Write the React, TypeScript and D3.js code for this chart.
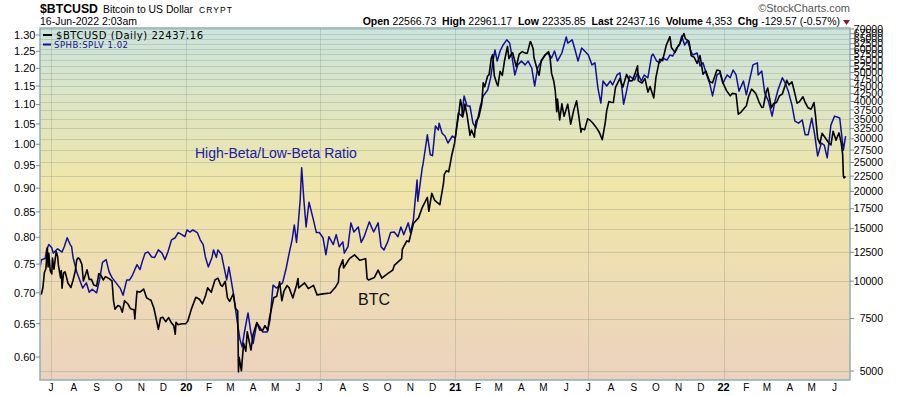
import React from 'react';
import * as d3 from 'd3';

// chart frame
const W = 900;
const H = 396;
const plotLeft = 40;
const plotRight = 850;
const plotTop = 28;
const plotBottom = 380;

// $BTCUSD daily close (USD)
const btcSeries: [string, number][] = [
  ['2019-06-16', 8990], ['2019-06-18', 9080], ['2019-06-20', 9530], ['2019-06-22', 10700], ['2019-06-24', 11010],
  ['2019-06-26', 12930], ['2019-06-27', 11160], ['2019-06-28', 12410], ['2019-06-30', 10820], ['2019-07-02', 10580],
  ['2019-07-03', 11960], ['2019-07-05', 10980], ['2019-07-08', 12570], ['2019-07-10', 12100], ['2019-07-11', 11350],
  ['2019-07-14', 10260], ['2019-07-15', 10850], ['2019-07-16', 9470], ['2019-07-18', 10640], ['2019-07-20', 10760],
  ['2019-07-22', 10330], ['2019-07-24', 9860], ['2019-07-28', 9530], ['2019-07-31', 10080], ['2019-08-03', 10820],
  ['2019-08-05', 11800], ['2019-08-07', 11980], ['2019-08-09', 11860], ['2019-08-12', 11380], ['2019-08-14', 10020],
  ['2019-08-16', 10360], ['2019-08-19', 10920], ['2019-08-22', 10130], ['2019-08-25', 10150], ['2019-08-28', 9720],
  ['2019-09-01', 9630], ['2019-09-04', 10600], ['2019-09-07', 10460], ['2019-09-10', 10100], ['2019-09-13', 10360],
  ['2019-09-18', 10200], ['2019-09-22', 10020], ['2019-09-24', 8600], ['2019-09-26', 8060], ['2019-09-30', 8290],
  ['2019-10-03', 8230], ['2019-10-06', 7880], ['2019-10-09', 8600], ['2019-10-14', 8370], ['2019-10-17', 8090],
  ['2019-10-22', 8020], ['2019-10-23', 7470], ['2019-10-25', 8660], ['2019-10-26', 9260], ['2019-10-30', 9190],
  ['2019-11-04', 9410], ['2019-11-08', 8800], ['2019-11-11', 8710], ['2019-11-14', 8630], ['2019-11-18', 8120],
  ['2019-11-22', 7290], ['2019-11-24', 6900], ['2019-11-27', 7530], ['2019-11-30', 7570], ['2019-12-04', 7320],
  ['2019-12-08', 7550], ['2019-12-12', 7240], ['2019-12-15', 7100], ['2019-12-17', 6640], ['2019-12-18', 7280],
  ['2019-12-21', 7150], ['2019-12-26', 7200], ['2019-12-31', 7200],
  ['2020-01-03', 7340], ['2020-01-06', 7770], ['2020-01-08', 8080], ['2020-01-14', 8840], ['2020-01-19', 8700],
  ['2020-01-23', 8400], ['2020-01-27', 8900], ['2020-01-30', 9500], ['2020-02-04', 9180], ['2020-02-09', 10100],
  ['2020-02-13', 10240], ['2020-02-17', 9700], ['2020-02-19', 9600], ['2020-02-23', 9990], ['2020-02-26', 8790],
  ['2020-02-29', 8560], ['2020-03-05', 9070], ['2020-03-08', 8110], ['2020-03-11', 7940], ['2020-03-12', 4970],
  ['2020-03-13', 5560], ['2020-03-16', 5010], ['2020-03-19', 6190], ['2020-03-22', 5830], ['2020-03-24', 6770],
  ['2020-03-29', 5880], ['2020-04-01', 6640], ['2020-04-06', 7270], ['2020-04-10', 6870], ['2020-04-14', 6840],
  ['2020-04-17', 7100], ['2020-04-21', 6840], ['2020-04-23', 7480], ['2020-04-29', 8800], ['2020-05-03', 8900],
  ['2020-05-07', 9950], ['2020-05-10', 8600], ['2020-05-13', 9270], ['2020-05-17', 9670], ['2020-05-20', 9500],
  ['2020-05-25', 8790], ['2020-05-30', 9700], ['2020-06-01', 10200], ['2020-06-02', 9500], ['2020-06-10', 9870],
  ['2020-06-15', 9450], ['2020-06-22', 9690], ['2020-06-27', 9000], ['2020-07-05', 9070], ['2020-07-15', 9130],
  ['2020-07-22', 9550], ['2020-07-26', 9930], ['2020-07-27', 11000], ['2020-08-01', 11800], ['2020-08-02', 11070],
  ['2020-08-10', 11900], ['2020-08-17', 12250], ['2020-08-24', 11750], ['2020-09-01', 11900], ['2020-09-03', 10200],
  ['2020-09-05', 10100], ['2020-09-13', 10300], ['2020-09-18', 10900], ['2020-09-23', 10240], ['2020-10-01', 10600],
  ['2020-10-08', 10900], ['2020-10-10', 11300], ['2020-10-20', 11900], ['2020-10-21', 12800], ['2020-10-27', 13650],
  ['2020-10-30', 13560], ['2020-11-05', 15600], ['2020-11-12', 16300], ['2020-11-17', 17650], ['2020-11-24', 19100],
  ['2020-11-26', 17150], ['2020-11-30', 19700], ['2020-12-04', 18650], ['2020-12-11', 18050], ['2020-12-16', 21300],
  ['2020-12-17', 22800], ['2020-12-20', 23470], ['2020-12-23', 23240], ['2020-12-27', 26270], ['2020-12-31', 29000],
  ['2021-01-03', 32800], ['2021-01-06', 36800], ['2021-01-08', 40600], ['2021-01-10', 38350], ['2021-01-11', 35500],
  ['2021-01-13', 37400], ['2021-01-14', 39200], ['2021-01-17', 36000], ['2021-01-21', 30800], ['2021-01-23', 32100],
  ['2021-01-27', 30400], ['2021-01-29', 34300], ['2021-02-02', 35500], ['2021-02-06', 39300], ['2021-02-08', 46200],
  ['2021-02-10', 44800], ['2021-02-14', 48700], ['2021-02-16', 49200], ['2021-02-19', 55900], ['2021-02-21', 57500],
  ['2021-02-23', 48900], ['2021-02-26', 46300], ['2021-02-28', 45100], ['2021-03-03', 50500], ['2021-03-06', 48900],
  ['2021-03-09', 54800], ['2021-03-13', 61200], ['2021-03-15', 55700], ['2021-03-18', 57600], ['2021-03-20', 58300],
  ['2021-03-25', 52300], ['2021-03-29', 57700], ['2021-04-02', 58800], ['2021-04-06', 58100], ['2021-04-09', 58100],
  ['2021-04-13', 63500], ['2021-04-14', 63100], ['2021-04-17', 60000], ['2021-04-18', 56200], ['2021-04-22', 51700],
  ['2021-04-25', 49000], ['2021-04-28', 54900], ['2021-05-03', 57200], ['2021-05-08', 58800], ['2021-05-10', 55900],
  ['2021-05-12', 49700], ['2021-05-15', 46800], ['2021-05-17', 43500], ['2021-05-19', 37000], ['2021-05-20', 40800],
  ['2021-05-23', 34700], ['2021-05-26', 39300], ['2021-05-29', 35700], ['2021-06-03', 39200], ['2021-06-07', 33600],
  ['2021-06-11', 37300], ['2021-06-15', 40200], ['2021-06-18', 35800], ['2021-06-21', 31600], ['2021-06-22', 32500],
  ['2021-06-26', 32200], ['2021-06-30', 35000], ['2021-07-03', 34700], ['2021-07-07', 33900], ['2021-07-12', 32700],
  ['2021-07-16', 31500], ['2021-07-20', 29800], ['2021-07-24', 34000], ['2021-07-26', 37300], ['2021-07-29', 40000],
  ['2021-08-01', 39800], ['2021-08-04', 39700], ['2021-08-07', 44600], ['2021-08-13', 47800], ['2021-08-17', 44700],
  ['2021-08-22', 49300], ['2021-08-26', 46900], ['2021-08-30', 47000], ['2021-09-03', 50000], ['2021-09-06', 52700],
  ['2021-09-07', 46900], ['2021-09-12', 46100], ['2021-09-16', 47800], ['2021-09-20', 43000], ['2021-09-23', 44900],
  ['2021-09-28', 41100], ['2021-10-01', 48200], ['2021-10-06', 55400], ['2021-10-10', 54800], ['2021-10-15', 61700],
  ['2021-10-20', 66000], ['2021-10-22', 60700], ['2021-10-27', 58400], ['2021-10-31', 61300], ['2021-11-03', 62900],
  ['2021-11-08', 67600], ['2021-11-10', 65000], ['2021-11-15', 63600], ['2021-11-18', 56900], ['2021-11-22', 56300],
  ['2021-11-26', 53700], ['2021-11-30', 57000], ['2021-12-04', 49400], ['2021-12-08', 50600], ['2021-12-13', 46700],
  ['2021-12-17', 46200], ['2021-12-23', 51000], ['2021-12-27', 50700], ['2021-12-31', 46300],
  ['2022-01-05', 43500], ['2022-01-10', 41800], ['2022-01-13', 42600], ['2022-01-18', 42400], ['2022-01-21', 36300],
  ['2022-01-24', 36700], ['2022-01-28', 37700], ['2022-02-01', 38700], ['2022-02-04', 41600], ['2022-02-08', 44000],
  ['2022-02-10', 43600], ['2022-02-14', 42500], ['2022-02-18', 40000], ['2022-02-22', 38200], ['2022-02-24', 38300],
  ['2022-02-28', 43200], ['2022-03-02', 44400], ['2022-03-07', 38100], ['2022-03-10', 39400], ['2022-03-14', 39700],
  ['2022-03-18', 41800], ['2022-03-22', 42400], ['2022-03-28', 47100], ['2022-03-31', 45500], ['2022-04-04', 46600],
  ['2022-04-07', 43500], ['2022-04-11', 39500], ['2022-04-14', 39900], ['2022-04-19', 41500], ['2022-04-22', 39700],
  ['2022-04-26', 38100], ['2022-04-30', 37700], ['2022-05-04', 39700], ['2022-05-06', 36000], ['2022-05-09', 30100],
  ['2022-05-12', 28900], ['2022-05-15', 31300], ['2022-05-19', 30300], ['2022-05-24', 29100], ['2022-05-27', 28600],
  ['2022-05-30', 31800], ['2022-06-03', 29700], ['2022-06-07', 31400], ['2022-06-10', 29100], ['2022-06-12', 26600],
  ['2022-06-13', 22500], ['2022-06-14', 22200], ['2022-06-16', 22437.16],
];

// SPHB:SPLV ratio
const ratioSeries: [string, number][] = [
  ['2019-06-16', 0.745], ['2019-06-18', 0.758], ['2019-06-23', 0.760], ['2019-06-25', 0.776], ['2019-06-28', 0.786],
  ['2019-07-02', 0.780], ['2019-07-04', 0.770], ['2019-07-10', 0.778], ['2019-07-16', 0.772], ['2019-07-19', 0.782],
  ['2019-07-23', 0.799], ['2019-07-27', 0.786], ['2019-07-29', 0.782], ['2019-07-31', 0.762], ['2019-08-05', 0.736],
  ['2019-08-09', 0.722], ['2019-08-13', 0.708], ['2019-08-18', 0.717], ['2019-08-22', 0.701], ['2019-08-26', 0.706],
  ['2019-09-01', 0.700], ['2019-09-05', 0.722], ['2019-09-09', 0.753], ['2019-09-14', 0.758], ['2019-09-18', 0.736],
  ['2019-09-22', 0.726], ['2019-10-03', 0.708], ['2019-10-07', 0.696], ['2019-10-12', 0.722], ['2019-10-16', 0.722],
  ['2019-10-20', 0.731], ['2019-10-26', 0.749], ['2019-10-30', 0.740], ['2019-11-02', 0.754], ['2019-11-06', 0.770],
  ['2019-11-10', 0.772], ['2019-11-15', 0.763], ['2019-11-19', 0.762], ['2019-11-24', 0.776], ['2019-11-29', 0.770],
  ['2019-12-03', 0.758], ['2019-12-07', 0.772], ['2019-12-12', 0.795], ['2019-12-17', 0.799], ['2019-12-21', 0.809],
  ['2019-12-26', 0.805], ['2019-12-30', 0.801], ['2020-01-02', 0.814], ['2020-01-06', 0.810], ['2020-01-10', 0.814],
  ['2020-01-16', 0.809], ['2020-01-20', 0.795], ['2020-01-24', 0.786], ['2020-01-27', 0.763], ['2020-01-31', 0.745],
  ['2020-02-05', 0.762], ['2020-02-07', 0.776], ['2020-02-11', 0.762], ['2020-02-13', 0.776], ['2020-02-18', 0.767],
  ['2020-02-20', 0.753], ['2020-02-25', 0.722], ['2020-02-28', 0.745], ['2020-03-05', 0.700], ['2020-03-10', 0.656],
  ['2020-03-14', 0.626], ['2020-03-17', 0.615], ['2020-03-20', 0.636], ['2020-03-25', 0.667], ['2020-03-29', 0.636],
  ['2020-04-01', 0.620], ['2020-04-06', 0.651], ['2020-04-10', 0.645], ['2020-04-14', 0.637], ['2020-04-20', 0.637],
  ['2020-04-24', 0.656], ['2020-04-28', 0.713], ['2020-05-03', 0.708], ['2020-05-07', 0.713], ['2020-05-11', 0.717],
  ['2020-05-16', 0.743], ['2020-05-20', 0.770], ['2020-05-24', 0.795], ['2020-05-27', 0.824], ['2020-05-30', 0.790],
  ['2020-06-01', 0.820], ['2020-06-04', 0.875], ['2020-06-06', 0.945], ['2020-06-09', 0.875], ['2020-06-12', 0.820],
  ['2020-06-16', 0.870], ['2020-06-22', 0.834], ['2020-06-26', 0.809], ['2020-06-30', 0.809], ['2020-07-05', 0.799],
  ['2020-07-09', 0.767], ['2020-07-13', 0.801], ['2020-07-19', 0.786], ['2020-07-23', 0.805], ['2020-07-27', 0.782],
  ['2020-08-01', 0.791], ['2020-08-03', 0.770], ['2020-08-08', 0.782], ['2020-08-12', 0.828], ['2020-08-16', 0.810],
  ['2020-08-22', 0.820], ['2020-08-26', 0.790], ['2020-08-30', 0.801], ['2020-09-06', 0.830], ['2020-09-12', 0.810],
  ['2020-09-18', 0.828], ['2020-09-22', 0.782], ['2020-09-26', 0.776], ['2020-10-01', 0.791], ['2020-10-05', 0.809],
  ['2020-10-10', 0.810], ['2020-10-15', 0.801], ['2020-10-19', 0.820], ['2020-10-23', 0.805], ['2020-10-29', 0.828],
  ['2020-11-01', 0.809], ['2020-11-05', 0.834], ['2020-11-10', 0.918], ['2020-11-11', 0.872], ['2020-11-17', 0.945],
  ['2020-11-18', 0.952], ['2020-11-24', 1.023], ['2020-11-28', 0.975], ['2020-12-01', 0.973], ['2020-12-05', 1.045],
  ['2020-12-09', 1.035], ['2020-12-10', 1.052], ['2020-12-14', 1.027], ['2020-12-18', 1.020], ['2020-12-22', 1.003],
  ['2020-12-28', 1.020], ['2021-01-01', 1.015], ['2021-01-05', 1.078], ['2021-01-10', 1.070], ['2021-01-13', 1.123],
  ['2021-01-17', 1.096], ['2021-01-21', 1.096], ['2021-01-25', 1.052], ['2021-01-29', 1.040], ['2021-02-04', 1.096],
  ['2021-02-08', 1.123], ['2021-02-14', 1.139], ['2021-02-18', 1.172], ['2021-02-22', 1.230], ['2021-02-24', 1.254],
  ['2021-02-27', 1.221], ['2021-03-03', 1.251], ['2021-03-07', 1.269], ['2021-03-12', 1.285], ['2021-03-16', 1.275],
  ['2021-03-19', 1.236], ['2021-03-23', 1.181], ['2021-03-27', 1.210], ['2021-04-01', 1.221], ['2021-04-06', 1.210],
  ['2021-04-10', 1.221], ['2021-04-15', 1.201], ['2021-04-19', 1.150], ['2021-04-23', 1.201], ['2021-04-29', 1.224],
  ['2021-05-03', 1.239], ['2021-05-07', 1.245], ['2021-05-12', 1.230], ['2021-05-16', 1.251], ['2021-05-20', 1.221],
  ['2021-05-26', 1.245], ['2021-06-01', 1.294], ['2021-06-03', 1.275], ['2021-06-09', 1.285], ['2021-06-13', 1.254],
  ['2021-06-17', 1.221], ['2021-06-22', 1.260], ['2021-06-26', 1.251], ['2021-07-01', 1.239], ['2021-07-06', 1.210],
  ['2021-07-10', 1.216], ['2021-07-14', 1.145], ['2021-07-18', 1.104], ['2021-07-21', 1.164], ['2021-07-26', 1.150],
  ['2021-07-31', 1.164], ['2021-08-03', 1.153], ['2021-08-09', 1.181], ['2021-08-13', 1.187], ['2021-08-16', 1.139],
  ['2021-08-18', 1.101], ['2021-08-22', 1.136], ['2021-08-26', 1.178], ['2021-09-02', 1.167], ['2021-09-06', 1.187],
  ['2021-09-11', 1.164], ['2021-09-15', 1.181], ['2021-09-20', 1.173], ['2021-09-25', 1.236], ['2021-09-27', 1.242],
  ['2021-10-02', 1.221], ['2021-10-06', 1.216], ['2021-10-10', 1.230], ['2021-10-16', 1.224], ['2021-10-20', 1.239],
  ['2021-10-24', 1.236], ['2021-10-29', 1.260], ['2021-11-02', 1.269], ['2021-11-05', 1.297], ['2021-11-09', 1.269],
  ['2021-11-13', 1.282], ['2021-11-17', 1.254], ['2021-11-20', 1.239], ['2021-11-26', 1.245], ['2021-11-30', 1.207],
  ['2021-12-04', 1.216], ['2021-12-09', 1.181], ['2021-12-13', 1.158], ['2021-12-17', 1.123], ['2021-12-23', 1.181],
  ['2021-12-27', 1.187], ['2021-12-31', 1.158], ['2022-01-06', 1.181], ['2022-01-10', 1.173], ['2022-01-14', 1.195],
  ['2022-01-18', 1.181], ['2022-01-22', 1.136], ['2022-01-28', 1.164], ['2022-02-01', 1.126], ['2022-02-06', 1.173],
  ['2022-02-10', 1.210], ['2022-02-16', 1.216], ['2022-02-17', 1.181], ['2022-02-22', 1.192], ['2022-02-26', 1.131],
  ['2022-03-03', 1.109], ['2022-03-08', 1.070], ['2022-03-12', 1.109], ['2022-03-16', 1.139], ['2022-03-22', 1.173],
  ['2022-03-26', 1.158], ['2022-03-30', 1.136], ['2022-04-04', 1.099], ['2022-04-08', 1.057], ['2022-04-13', 1.052],
  ['2022-04-18', 1.060], ['2022-04-22', 1.023], ['2022-04-26', 1.023], ['2022-05-01', 1.065], ['2022-05-05', 1.023],
  ['2022-05-09', 0.972], ['2022-05-14', 1.003], ['2022-05-18', 0.998], ['2022-05-22', 0.968], ['2022-05-27', 1.047],
  ['2022-06-01', 1.070], ['2022-06-08', 1.065], ['2022-06-13', 0.986], ['2022-06-16', 1.020],
];

const ratioTicks = [0.6, 0.65, 0.7, 0.75, 0.8, 0.85, 0.9, 0.95, 1.0, 1.05, 1.1, 1.15, 1.2, 1.25, 1.3];
const btcTicks = [
  5000, 7500, 10000, 12500, 15000, 17500, 20000, 22500, 25000, 27500, 30000, 32500, 35000, 37500,
  40000, 42500, 45000, 47500, 50000, 52500, 55000, 57500, 60000, 62500, 65000, 67500, 70000,
];
const monthLabels = [
  'J', 'A', 'S', 'O', 'N', 'D', '20', 'F', 'M', 'A', 'M', 'J',
  'J', 'A', 'S', 'O', 'N', 'D', '21', 'F', 'M', 'A', 'M', 'J',
  'J', 'A', 'S', 'O', 'N', 'D', '22', 'F', 'M', 'A', 'M', 'J',
];
const gridDates = ['2019-07-01', '2020-01-01', '2020-07-01', '2021-01-01', '2021-07-01', '2022-01-01'];
const quoteStats: [string, string][] = [
  ['Open', '22566.73'], ['High', '22961.17'], ['Low', '22335.85'],
  ['Last', '22437.16'], ['Volume', '4,353'], ['Chg', '-129.57 (-0.57%)'],
];

const parse = d3.timeParse('%Y-%m-%d');
const sans = '"Liberation Sans", Arial, sans-serif';
const verdana = '"DejaVu Sans", Verdana, sans-serif';
const blue = '#10109a';

export default function App() {
  const x = d3.scaleTime()
    .domain([parse('2019-06-16')!, parse('2022-06-22')!])
    .range([plotLeft, plotRight]);
  const yRatio = d3.scaleLog().domain([0.5678, 1.322]).range([plotBottom, plotTop]);
  const yBtc = d3.scaleLog().domain([4667, 70540]).range([plotBottom, plotTop]);

  const btcLine = d3.line<[string, number]>()
    .x(d => x(parse(d[0])!))
    .y(d => yBtc(d[1]));
  const ratioLine = d3.line<[string, number]>()
    .x(d => x(parse(d[0])!))
    .y(d => yRatio(d[1]));

  const months = d3.timeMonth.range(parse('2019-07-01')!, parse('2022-06-02')!);

  return (
    <svg width={W} height={H} style={{ position: 'absolute', left: 0, top: 0, background: '#fff' }}>
      <defs>
        <linearGradient id="bg" x1="0" y1="0" x2="0" y2="1">
          <stop offset="0%" stopColor="#cce4dc" />
          <stop offset="45%" stopColor="#f0e6a9" />
          <stop offset="100%" stopColor="#ebd2be" />
        </linearGradient>
        <clipPath id="plot">
          <rect x={plotLeft} y={plotTop} width={plotRight - plotLeft} height={plotBottom - plotTop} />
        </clipPath>
      </defs>

      {/* header */}
      <text x={40} y={13} fontFamily={sans} fontSize={13.5} fontWeight="bold" textLength={58} lengthAdjust="spacingAndGlyphs">$BTCUSD</text>
      <text x={103} y={13} fontFamily={sans} fontSize={11.5} textLength={90} lengthAdjust="spacingAndGlyphs">Bitcoin to US Dollar</text>
      <text x={199} y={13} fontFamily={sans} fontSize={8.5} textLength={33} lengthAdjust="spacing">CRYPT</text>
      <text x={40} y={25} fontFamily={sans} fontSize={10.5} textLength={97} lengthAdjust="spacingAndGlyphs">16-Jun-2022 2:03am</text>
      <text x={850} y={12} fontFamily={sans} fontSize={11} fill="#555" textAnchor="end">©StockCharts.com</text>
      <text x={840} y={25} fontFamily={sans} fontSize={10.5} textAnchor="end" style={{ whiteSpace: 'pre' }}>
        {quoteStats.map(([k, v], i) => (
          <React.Fragment key={k}>
            <tspan fontWeight="bold">{(i > 0 ? '  ' : '') + k}</tspan>
            <tspan>{' ' + v}</tspan>
          </React.Fragment>
        ))}
      </text>
      <path d="M843,20 L850,20 L846.5,25 Z" fill="#8b1538" />

      {/* plot background */}
      <rect x={plotLeft} y={plotTop} width={plotRight - plotLeft} height={plotBottom - plotTop} fill="url(#bg)" />

      {/* grid */}
      <g stroke="#7f8f80" strokeOpacity={0.3} strokeWidth={1}>
        {btcTicks.map(t => (
          <line key={t} x1={plotLeft} x2={plotRight} y1={Math.round(yBtc(t)) + 0.5} y2={Math.round(yBtc(t)) + 0.5} />
        ))}
        {gridDates.map(g => (
          <line key={g} x1={Math.round(x(parse(g)!)) + 0.5} x2={Math.round(x(parse(g)!)) + 0.5} y1={plotTop} y2={plotBottom} />
        ))}
      </g>

      {/* series */}
      <g clipPath="url(#plot)" fill="none" strokeLinejoin="round">
        <path d={ratioLine(ratioSeries)!} stroke={blue} strokeWidth={1.5} />
        <path d={btcLine(btcSeries)!} stroke="#000" strokeWidth={1.6} />
      </g>

      {/* legend */}
      <line x1={43} x2={52} y1={35} y2={35} stroke="#000" strokeWidth={2} />
      <text x={56} y={38.5} fontFamily={verdana} fontSize={10} textLength={147} lengthAdjust="spacing">$BTCUSD (Daily) 22437.16</text>
      <line x1={43} x2={51} y1={44.5} y2={44.5} stroke={blue} strokeWidth={2} />
      <text x={54} y={48} fontFamily={verdana} fontSize={8.5} fill={blue} textLength={74} lengthAdjust="spacing">SPHB:SPLV 1.02</text>

      {/* annotations */}
      <text x={195} y={158} fontFamily={sans} fontSize={14} fill="#2020a8">High-Beta/Low-Beta Ratio</text>
      <text x={358} y={305} fontFamily={sans} fontSize={16} fill="#111">BTC</text>

      {/* frame */}
      <rect x={plotLeft} y={plotTop} width={plotRight - plotLeft} height={plotBottom - plotTop}
        fill="none" stroke="#8fb0b8" strokeWidth={1.5} />

      {/* left axis */}
      <g fontFamily={sans} fontSize={11}>
        {ratioTicks.map(t => (
          <g key={t}>
            <line x1={36} x2={40} y1={yRatio(t)} y2={yRatio(t)} stroke="#888" />
            <text x={35.5} y={yRatio(t)} dy="0.35em" textAnchor="end">{t.toFixed(2)}</text>
          </g>
        ))}
      </g>

      {/* right axis */}
      <g fontFamily={sans} fontSize={10.5}>
        {btcTicks.map(t => (
          <g key={t}>
            <line x1={850} x2={854} y1={yBtc(t)} y2={yBtc(t)} stroke="#888" />
            <text x={883} y={yBtc(t)} dy="0.35em" textAnchor="end">{t}</text>
          </g>
        ))}
      </g>

      {/* bottom axis */}
      <g fontFamily={sans} fontSize={10} textAnchor="middle">
        {months.map((m, i) => (
          <text key={i} x={x(m)} y={391} fontWeight={monthLabels[i].length > 1 ? 'bold' : 'normal'}
            fontSize={monthLabels[i].length > 1 ? 11 : 10}>
            {monthLabels[i]}
          </text>
        ))}
      </g>
    </svg>
  );
}
